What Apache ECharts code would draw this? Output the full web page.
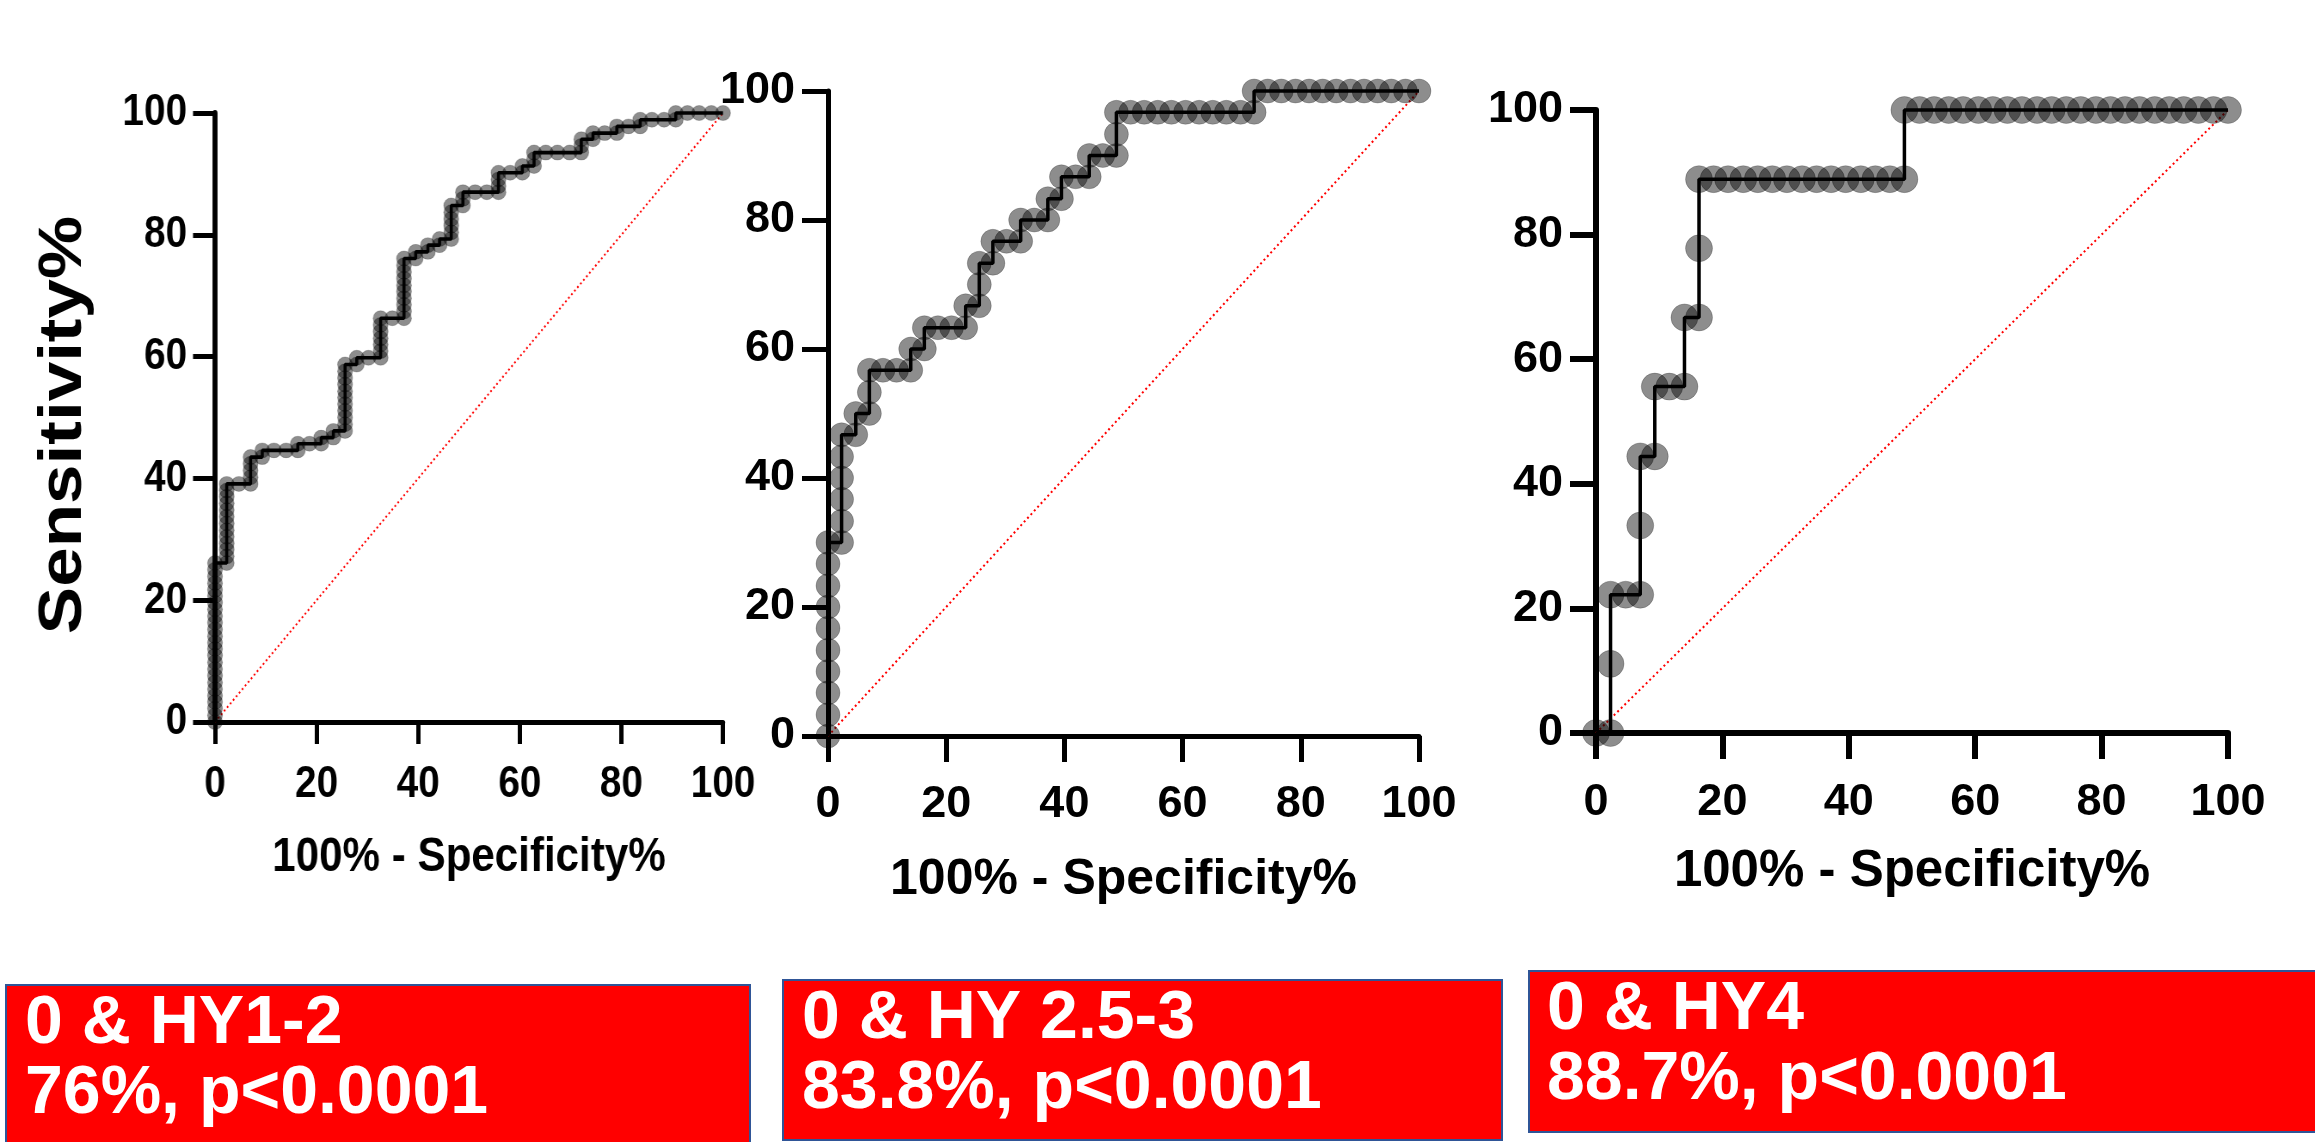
<!DOCTYPE html>
<html>
<head>
<meta charset="utf-8">
<title>ROC curves</title>
<script src="https://cdn.jsdelivr.net/npm/echarts@6/dist/echarts.min.js"></script>
<style>
  html, body { margin: 0; padding: 0; background: #fff; }
  #main { position: absolute; left: 0; top: 0; width: 2315px; height: 1142px; }
  /* the first figure is squeezed sideways in the original slide */
  #first { position: absolute; left: 0; top: 0; width: 900px; height: 960px;
           transform: scaleX(0.86); transform-origin: 0 0; }
</style>
</head>
<body>
<div id="main"></div>
<div id="first"></div>
<script>
// [100% - Specificity%, Sensitivity%]
const rocHY12 = [
  [0, 0], [0, 1.1], [0, 2.2], [0, 3.3], [0, 4.3], [0, 5.4], [0, 6.5], [0, 7.6], [0, 8.7], [0, 9.8],
  [0, 10.9], [0, 12.0], [0, 13.0], [0, 14.1], [0, 15.2], [0, 16.3], [0, 17.4], [0, 18.5], [0, 19.6],
  [0, 20.7], [0, 21.7], [0, 22.8], [0, 23.9], [0, 25.0], [0, 26.1],
  [2.3, 26.1], [2.3, 27.2], [2.3, 28.3], [2.3, 29.3], [2.3, 30.4], [2.3, 31.5], [2.3, 32.6], [2.3, 33.7],
  [2.3, 34.8], [2.3, 35.9], [2.3, 37.0], [2.3, 38.0], [2.3, 39.1],
  [4.7, 39.1],
  [7.0, 39.1], [7.0, 40.2], [7.0, 41.3], [7.0, 42.4], [7.0, 43.5],
  [9.3, 43.5], [9.3, 44.6], [11.6, 44.6], [14.0, 44.6], [16.3, 44.6], [16.3, 45.7], [18.6, 45.7],
  [20.9, 45.7], [20.9, 46.7], [23.3, 46.7], [23.3, 47.8],
  [25.6, 47.8], [25.6, 48.9], [25.6, 50.0], [25.6, 51.1], [25.6, 52.2], [25.6, 53.3], [25.6, 54.3],
  [25.6, 55.4], [25.6, 56.5], [25.6, 57.6], [25.6, 58.7],
  [27.9, 58.7], [27.9, 59.8], [30.2, 59.8],
  [32.6, 59.8], [32.6, 60.9], [32.6, 62.0], [32.6, 63.0], [32.6, 64.1], [32.6, 65.2], [32.6, 66.3],
  [34.9, 66.3],
  [37.2, 66.3], [37.2, 67.4], [37.2, 68.5], [37.2, 69.6], [37.2, 70.7], [37.2, 71.7], [37.2, 72.8],
  [37.2, 73.9], [37.2, 75.0], [37.2, 76.1],
  [39.5, 76.1], [39.5, 77.2], [41.9, 77.2], [41.9, 78.3], [44.2, 78.3], [44.2, 79.3],
  [46.5, 79.3], [46.5, 80.4], [46.5, 81.5], [46.5, 82.6], [46.5, 83.7], [46.5, 84.8],
  [48.8, 84.8], [48.8, 85.9], [48.8, 87.0], [51.2, 87.0], [53.5, 87.0],
  [55.8, 87.0], [55.8, 88.0], [55.8, 89.1], [55.8, 90.2],
  [58.1, 90.2], [60.5, 90.2], [60.5, 91.3], [62.8, 91.3], [62.8, 92.4], [62.8, 93.5],
  [65.1, 93.5], [67.4, 93.5], [69.8, 93.5],
  [72.1, 93.5], [72.1, 94.6], [72.1, 95.7], [74.4, 95.7], [74.4, 96.7], [76.7, 96.7],
  [79.1, 96.7], [79.1, 97.8], [81.4, 97.8], [83.7, 97.8], [83.7, 98.9], [86.0, 98.9], [88.4, 98.9],
  [90.7, 98.9], [90.7, 100], [93.0, 100], [95.3, 100], [97.7, 100], [100, 100]
];

const rocHY253 = [
  [0, 0], [0, 3.3], [0, 6.7], [0, 10], [0, 13.3], [0, 16.7], [0, 20], [0, 23.3], [0, 26.7], [0, 30],
  [2.3, 30], [2.3, 33.3], [2.3, 36.7], [2.3, 40], [2.3, 43.3], [2.3, 46.7],
  [4.7, 46.7], [4.7, 50],
  [7.0, 50], [7.0, 53.3], [7.0, 56.7],
  [9.3, 56.7], [11.6, 56.7], [14.0, 56.7], [14.0, 60],
  [16.3, 60], [16.3, 63.3], [18.6, 63.3], [20.9, 63.3], [23.3, 63.3], [23.3, 66.7],
  [25.6, 66.7], [25.6, 70], [25.6, 73.3], [27.9, 73.3], [27.9, 76.7], [30.2, 76.7], [32.6, 76.7], [32.6, 80],
  [34.9, 80], [37.2, 80], [37.2, 83.3], [39.5, 83.3], [39.5, 86.7], [41.9, 86.7], [44.2, 86.7], [44.2, 90],
  [46.5, 90], [48.8, 90], [48.8, 93.3], [48.8, 96.7],
  [51.2, 96.7], [53.5, 96.7], [55.8, 96.7], [58.1, 96.7], [60.5, 96.7], [62.8, 96.7], [65.1, 96.7],
  [67.4, 96.7], [69.8, 96.7],
  [72.1, 96.7], [72.1, 100],
  [74.4, 100], [76.7, 100], [79.1, 100], [81.4, 100], [83.7, 100], [86.0, 100], [88.4, 100],
  [90.7, 100], [93.0, 100], [95.3, 100], [97.7, 100], [100, 100]
];

const rocHY4 = [
  [0, 0], [2.3, 0], [2.3, 11.1], [2.3, 22.2], [4.7, 22.2], [7.0, 22.2], [7.0, 33.3], [7.0, 44.4],
  [9.3, 44.4], [9.3, 55.6], [11.6, 55.6], [14.0, 55.6], [14.0, 66.7], [16.3, 66.7], [16.3, 77.8], [16.3, 88.9],
  [18.6, 88.9], [20.9, 88.9], [23.3, 88.9], [25.6, 88.9], [27.9, 88.9], [30.2, 88.9], [32.6, 88.9],
  [34.9, 88.9], [37.2, 88.9], [39.5, 88.9], [41.9, 88.9], [44.2, 88.9], [46.5, 88.9], [48.8, 88.9],
  [48.8, 100], [51.2, 100], [53.5, 100], [55.8, 100], [58.1, 100], [60.5, 100], [62.8, 100], [65.1, 100],
  [67.4, 100], [69.8, 100], [72.1, 100], [74.4, 100], [76.7, 100], [79.1, 100], [81.4, 100], [83.7, 100],
  [86.0, 100], [88.4, 100], [90.7, 100], [93.0, 100], [95.3, 100], [97.7, 100], [100, 100]
];

// chance line
const diagonal = [[0, 0], [100, 100]];

const axisMin = 0;
const axisMax = 100;
const axisStep = 20;

const yTitle = "Sensitivity%";
const xTitle = "100% - Specificity%";
const boxTitles = ["0 & HY1-2", "0 & HY 2.5-3", "0 & HY4"];
const boxStats = ["76%, p<0.0001", "83.8%, p<0.0001", "88.7%, p<0.0001"];

const font = 'Arial, "Liberation Sans", sans-serif';

// grid + axes + series for one ROC panel
function buildPanel(p, i) {
  const common = {
    type: "value",
    gridIndex: i,
    min: axisMin,
    max: axisMax,
    interval: axisStep,
    splitLine: { show: false }
  };
  const xAxis = Object.assign({}, common, {
    name: xTitle,
    nameLocation: "middle",
    nameGap: p.nameGap,
    nameTextStyle: { fontFamily: font, fontSize: p.titleSize, fontWeight: "bold", color: "#000" },
    axisLine: { show: true, onZero: false, lineStyle: { color: "#000", width: p.axisW } },
    axisTick: { show: true, inside: false, length: p.tickLen, lineStyle: { color: "#000", width: p.axisW } },
    axisLabel: { margin: p.xMargin, fontFamily: font, fontSize: p.tickSize, fontWeight: "bold", color: "#000" }
  });
  const yAxis = Object.assign({}, common, {
    axisLine: { show: true, onZero: false, lineStyle: { color: "#000", width: p.yAxisW } },
    axisTick: { show: true, inside: false, length: p.yTickLen, lineStyle: { color: "#000", width: p.axisW } },
    axisLabel: { margin: p.yMargin, fontFamily: font, fontSize: p.tickSize, fontWeight: "bold", color: "#000" }
  });
  const series = [
    {
      type: "line",
      xAxisIndex: i,
      yAxisIndex: i,
      data: diagonal,
      symbol: "none",
      clip: false,
      lineStyle: { color: "#ff0000", width: 2, type: [2, 3] },
      z: 1
    },
    {
      type: "scatter",
      xAxisIndex: i,
      yAxisIndex: i,
      data: p.data,
      symbolSize: p.dot,
      clip: false,
      itemStyle: { color: "rgba(0,0,0,0.56)", borderColor: "rgba(0,0,0,0.25)", borderWidth: 1 },
      z: 2
    },
    {
      type: "line",
      xAxisIndex: i,
      yAxisIndex: i,
      data: p.data,
      symbol: "none",
      clip: false,
      lineStyle: { color: "#000", width: p.line },
      z: 3
    }
  ];
  return {
    grid: Object.assign({ outerBoundsMode: "none", containLabel: false }, p.grid),
    xAxis: xAxis,
    yAxis: yAxis,
    series: series
  };
}

// ---- first panel (own canvas, squeezed to 0.86 width by css) ----
const sq = 0.86;
const first = buildPanel({
  data: rocHY12,
  grid: { left: 215 / sq, top: 113, width: 508 / sq, height: 609 },
  tickSize: 45, titleSize: 49, axisW: 5, yAxisW: 5 / sq, tickLen: 22, yTickLen: 22 / sq,
  dot: [15 / sq, 15], line: 3.6, yMargin: 28 / sq, xMargin: 40, nameGap: 111
}, 0);

const chart1 = echarts.init(document.getElementById("first"));
chart1.setOption({
  animation: false,
  grid: [first.grid],
  xAxis: [first.xAxis],
  yAxis: [first.yAxis],
  series: first.series,
  graphic: [{
    type: "text",
    x: 64 / sq,
    y: 425,
    rotation: Math.PI / 2,
    style: {
      text: yTitle,
      fill: "#000",
      font: "bold 71px " + font,
      align: "center",
      verticalAlign: "middle"
    }
  }]
});

// ---- second and third panel + red boxes ----
const panels = [
  { data: rocHY253, grid: { left: 828, top: 91, width: 591, height: 645 },
    tickSize: 45, titleSize: 50, axisW: 5, yAxisW: 5, tickLen: 26, yTickLen: 26, dot: 24, line: 3.5,
    yMargin: 33, xMargin: 46, nameGap: 119 },
  { data: rocHY4, grid: { left: 1596, top: 110, width: 632, height: 623 },
    tickSize: 45, titleSize: 51, axisW: 6, yAxisW: 6, tickLen: 26, yTickLen: 26, dot: 27, line: 3.5,
    yMargin: 33, xMargin: 47, nameGap: 113 }
];

const grids = [];
const xAxes = [];
const yAxes = [];
let series = [];
panels.forEach((p, i) => {
  const b = buildPanel(p, i);
  grids.push(b.grid);
  xAxes.push(b.xAxis);
  yAxes.push(b.yAxis);
  series = series.concat(b.series);
});

const boxes = [
  { x: 6, y: 985, w: 744, h: 170, tx: 25, ty: 1024 },
  { x: 783, y: 980, w: 719, h: 160, tx: 802, ty: 1019 },
  { x: 1529, y: 971, w: 800, h: 161, tx: 1547, ty: 1010 }
];
const graphic = [];
boxes.forEach((b, i) => {
  graphic.push({
    type: "rect",
    shape: { x: b.x, y: b.y, width: b.w, height: b.h },
    style: { fill: "#ff0000", stroke: "#2f5597", lineWidth: 2 },
    z: 10
  });
  [boxTitles[i], boxStats[i]].forEach((t, k) => {
    graphic.push({
      type: "text",
      x: b.tx,
      y: b.ty + k * 70,
      style: {
        text: t,
        fill: "#fff",
        font: "bold 68px " + font,
        align: "left",
        verticalAlign: "middle"
      },
      z: 11
    });
  });
});

const mychart = echarts.init(document.getElementById("main"));
mychart.setOption({
  animation: false,
  backgroundColor: "#fff",
  grid: grids,
  xAxis: xAxes,
  yAxis: yAxes,
  series: series,
  graphic: graphic
});
</script>
</body>
</html>
